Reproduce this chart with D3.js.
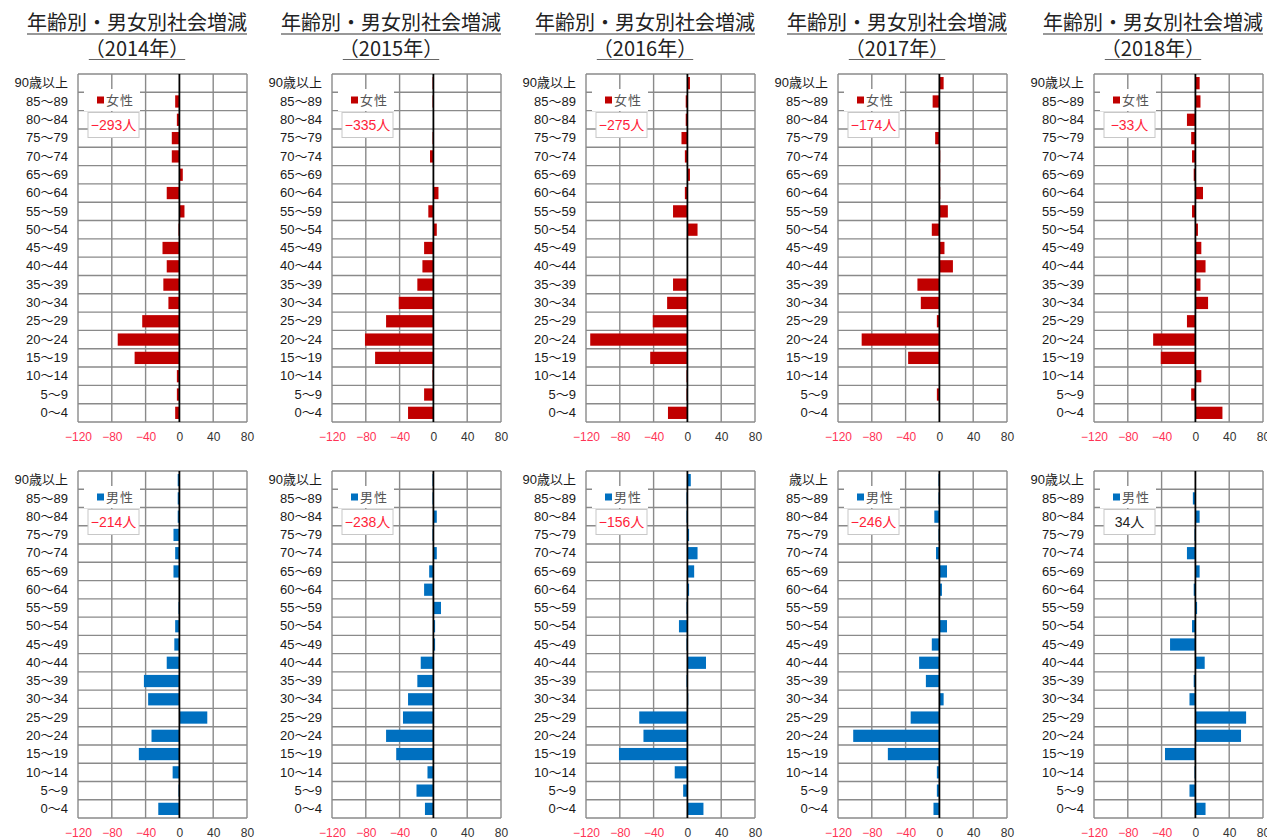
<!DOCTYPE html>
<html><head><meta charset="utf-8">
<script src="https://cdn.jsdelivr.net/npm/d3@7"></script>
<style>
html,body{margin:0;padding:0;background:#fff;overflow:hidden}
text{font-family:"Liberation Sans","Noto Sans CJK JP",sans-serif}
</style></head>
<body><svg id="c" width="1267" height="839"></svg>
<script>
const categories = ["90歳以上","85～89","80～84","75～79","70～74","65～69","60～64","55～59","50～54","45～49","40～44","35～39","30～34","25～29","20～24","15～19","10～14","5～9","0～4"];
const years = ["2014","2015","2016","2017","2018"];
const tickValues = [-120,-80,-40,0,40,80];

const female2014 = [0,-5,-3,-9,-9,4,-15,6,-1,-20,-15,-19,-13,-44,-73,-53,-3,-3,-5];
const female2015 = [-1,-1,0,-1,-4,0,6,-6,4,-11,-13,-19,-41,-56,-81,-69,-1,-11,-30];
const female2016 = [3,-2,-2,-7,-3,3,-3,-17,12,0,0,-17,-24,-41,-115,-44,-1,-1,-23];
const female2017 = [5,-8,0,-5,1,1,1,10,-9,6,16,-26,-22,-3,-92,-37,0,-3,0];
const female2018 = [5,6,-10,-5,-4,-2,9,-4,3,7,12,6,15,-10,-50,-41,7,-5,32];

const male2014 = [-2,-2,-2,-7,-5,-7,0,-1,-5,-6,-15,-42,-37,33,-33,-48,-8,-1,-25];
const male2015 = [-1,-1,4,-1,4,-5,-11,9,2,2,-15,-19,-30,-36,-56,-44,-7,-20,-10];
const male2016 = [4,-1,-1,2,12,8,2,-1,-10,-1,22,-1,1,-57,-52,-81,-15,-5,19];
const male2017 = [-1,-1,-6,-1,-4,9,3,0,9,-9,-24,-16,5,-34,-102,-61,-3,-3,-7];
const male2018 = [0,-3,5,-1,-10,5,-2,2,-4,-30,11,-2,-7,60,54,-36,-1,-7,12];

const femaleTotals = [-293,-335,-275,-174,-33];
const maleTotals = [-214,-238,-156,-246,34];

const femaleSeries = [female2014,female2015,female2016,female2017,female2018];
const maleSeries = [male2014,male2015,male2016,male2017,male2018];

const svg = d3.select("#c");
const colX = [78, 332, 586, 838, 1094];
const plotW = 169;
const rows = [
  {top:74, bottom:422, series:femaleSeries, totals:femaleTotals, color:"#c00000", name:"女性", title:true},
  {top:471, bottom:818, series:maleSeries, totals:maleTotals, color:"#0070c0", name:"男性", title:false}
];
const gridColor = "#8a8a8a";
const fmt = d => d < 0 ? "−" + Math.abs(d) : String(d);
const totalFmt = d => (d < 0 ? "−" + Math.abs(d) : String(d)) + "人";

rows.forEach((row, ri) => {
  years.forEach((yr, ci) => {
    const x0 = colX[ci];
    const x = d3.scaleLinear().domain([-120, 80]).range([x0, x0 + plotW]);
    const y = d3.scaleBand().domain(categories).range([row.top, row.bottom]).paddingInner(0.33).paddingOuter(0.165);
    const g = svg.append("g");
    const step = y.step();

    if (row.title) {
      const cx = x0 + 59;
      const t1 = g.append("text").attr("x", cx).attr("y", 30).attr("text-anchor", "middle")
        .attr("font-size", 20).attr("fill", "#222")
        .style("font-family", "'Noto Sans CJK JP',sans-serif").text("年齢別・男女別社会増減");
      const w1 = t1.node().getComputedTextLength();
      g.append("line").attr("x1", cx - w1/2).attr("x2", cx + w1/2).attr("y1", 34).attr("y2", 34)
        .attr("stroke", "#333").attr("stroke-width", 1.2);
      const t2 = g.append("text").attr("x", cx).attr("y", 56).attr("text-anchor", "middle")
        .attr("font-size", 20).attr("fill", "#222")
        .style("font-family", "'Noto Sans CJK JP',sans-serif").text("（" + yr + "年）");
      const w2 = t2.node().getComputedTextLength();
      g.append("line").attr("x1", cx - w2/2 + 4).attr("x2", cx + w2/2 - 4).attr("y1", 59.5).attr("y2", 59.5)
        .attr("stroke", "#666").attr("stroke-width", 1.2);
    }

    g.append("rect").attr("x", x0).attr("y", row.top).attr("width", plotW).attr("height", row.bottom - row.top).attr("fill", "#fff");
    g.selectAll(".hg").data(d3.range(categories.length + 1)).join("line")
      .attr("x1", x0).attr("x2", x0 + plotW)
      .attr("y1", i => row.top + i * step).attr("y2", i => row.top + i * step)
      .attr("stroke", gridColor).attr("stroke-width", 1.4);
    g.selectAll(".vg").data(tickValues.filter(d => d !== 0)).join("line")
      .attr("x1", d => x(d)).attr("x2", d => x(d))
      .attr("y1", row.top).attr("y2", row.bottom)
      .attr("stroke", gridColor).attr("stroke-width", 1.4);

    const lg = g.append("g");
    lg.append("rect").attr("x", x0 + 6).attr("y", row.top + 15).attr("width", 56).attr("height", 22).attr("fill", "#fff");
    lg.append("rect").attr("x", x0 + 19).attr("y", row.top + 22.5).attr("width", 7).attr("height", 7).attr("fill", row.color);
    lg.append("text").attr("x", x0 + 28).attr("y", row.top + 31).attr("font-size", 13).attr("fill", "#555")
      .attr("letter-spacing", 1)
      .style("font-family", "'Noto Sans CJK JP',sans-serif").text(row.name);
    lg.append("rect").attr("x", x0 + 10).attr("y", row.top + 38.5).attr("width", 51).attr("height", 25)
      .attr("fill", "#fff").attr("stroke", "#c8c8c8").attr("stroke-width", 1);
    const tot = row.totals[ci];
    lg.append("text").attr("x", x0 + 35.5).attr("y", row.top + 56).attr("text-anchor", "middle")
      .attr("font-size", 14).attr("fill", tot < 0 ? "#ff1f3a" : "#222").text(totalFmt(tot));

    const vals = row.series[ci];
    g.selectAll(".bar").data(categories.map((c, i) => ({c, v: vals[i]}))).join("rect")
      .attr("x", d => x(Math.min(0, d.v))).attr("width", d => Math.abs(x(d.v) - x(0)))
      .attr("y", d => y(d.c)).attr("height", y.bandwidth())
      .attr("fill", row.color);

    g.append("line").attr("x1", x(0)).attr("x2", x(0)).attr("y1", row.top).attr("y2", row.bottom)
      .attr("stroke", "#000").attr("stroke-width", 1.8);

    const ya = g.append("g").attr("transform", `translate(${x0},0)`)
      .call(d3.axisLeft(y).tickSize(0).tickPadding(10));
    ya.select(".domain").remove();
    ya.selectAll("text").attr("font-size", 13).attr("fill", "#1a1a1a")
      .style("font-family", "'Liberation Sans','Noto Sans CJK JP',sans-serif")
      .text(d => (ri === 1 && ci === 3 && d === "90歳以上") ? "歳以上" : d);

    const xa = g.append("g").attr("transform", `translate(0,${row.bottom})`)
      .call(d3.axisBottom(x).tickValues(tickValues).tickSize(0).tickPadding(10).tickFormat(fmt));
    xa.select(".domain").remove();
    xa.selectAll("text").attr("font-size", 12).attr("fill", d => d < 0 ? "#ff3355" : "#333")
      .style("font-family", "'Liberation Sans',sans-serif");
  });
});
</script></body></html>
